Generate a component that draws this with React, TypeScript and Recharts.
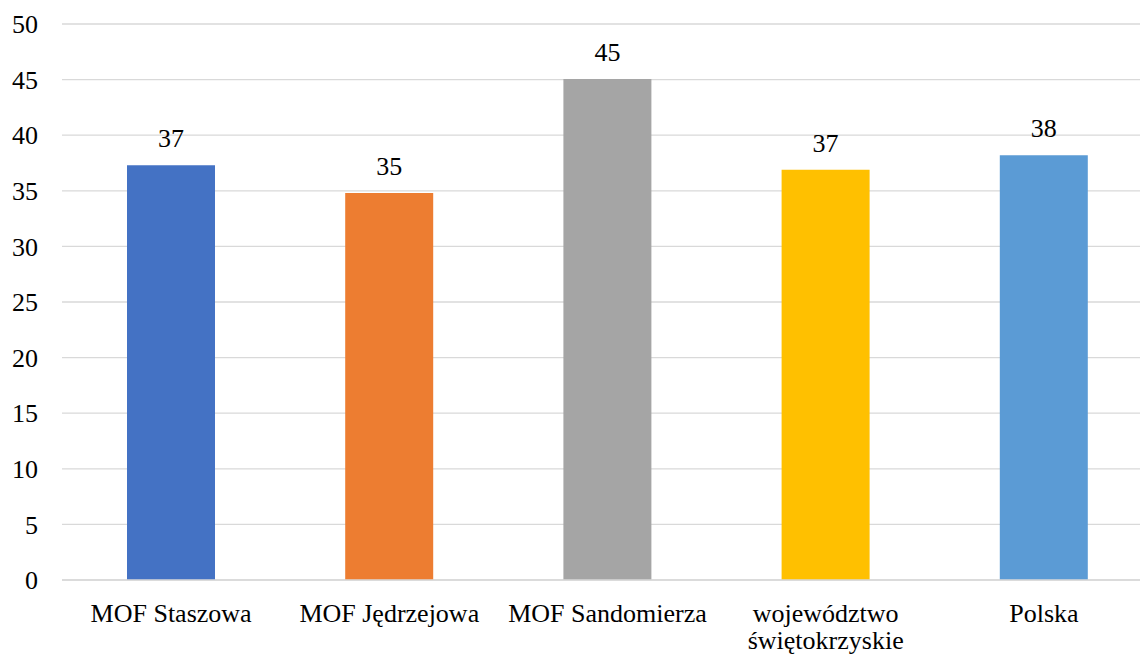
import React from 'react';
import { BarChart, Bar, XAxis, YAxis, CartesianGrid, LabelList, Cell } from 'recharts';

const categories = ['MOF Staszowa', 'MOF Jędrzejowa', 'MOF Sandomierza', 'województwo świętokrzyskie', 'Polska'];
const values = [37.3, 34.8, 45.05, 36.9, 38.2];
const labels = ['37', '35', '45', '37', '38'];
const colors = ['#4472C4', '#ED7D31', '#A5A5A5', '#FFC000', '#5B9BD5'];
const yTicks = [0, 5, 10, 15, 20, 25, 30, 35, 40, 45, 50];

const data = categories.map((name, i) => ({ name, value: values[i], label: labels[i] }));

const FONT = 'Liberation Serif, Times New Roman, serif';
const textStyle = { fontSize: 26, fontFamily: FONT, fill: '#000' };

const splitLabel = (s: string): string[] => {
  if (s.length <= 18) return [s];
  const words = s.split(' ');
  let best = 1;
  let bestDiff = Infinity;
  for (let k = 1; k < words.length; k++) {
    const a = words.slice(0, k).join(' ').length;
    const b = words.slice(k).join(' ').length;
    const diff = Math.abs(a - b);
    if (diff < bestDiff) {
      bestDiff = diff;
      best = k;
    }
  }
  return [words.slice(0, best).join(' '), words.slice(best).join(' ')];
};

const CategoryTick = (props: any) => {
  const { x, y, payload } = props;
  const lines = splitLabel(String(payload.value));
  return (
    <text x={x} y={y} textAnchor="middle" fontSize={26} fontFamily={FONT} fill="#000" style={textStyle}>
      {lines.map((line, i) => (
        <tspan key={i} x={x} dy={i === 0 ? 20 : 27}>
          {line}
        </tspan>
      ))}
    </text>
  );
};

export default function App() {
  return (
    <div style={{ position: 'absolute', left: 0, top: 0, width: 1140, height: 655, overflow: 'hidden', background: '#fff', fontFamily: FONT }}>
      <BarChart
        width={1160}
        height={655}
        data={data}
        margin={{ top: 24, right: 7, bottom: 0, left: 0 }}
        barSize={88}
        style={{ fontFamily: FONT }}
      >
        <CartesianGrid vertical={false} stroke="#d9d9d9" strokeWidth={1.3} />
        <XAxis
          dataKey="name"
          interval={0}
          height={75}
          tickLine={false}
          tickSize={0}
          tickMargin={22}
          axisLine={{ stroke: '#d9d9d9', strokeWidth: 1.3 }}
          tick={<CategoryTick />}
        />
        <YAxis
          width={62}
          domain={[0, 50]}
          ticks={yTicks}
          interval={0}
          axisLine={false}
          tickLine={false}
          tickSize={0}
          tickMargin={24}
          tick={{ fontSize: 26, fontFamily: FONT, fill: '#000', style: textStyle }}
        />
        <Bar dataKey="value" isAnimationActive={false}>
          {data.map((d, i) => (
            <Cell key={d.name} fill={colors[i]} />
          ))}
          <LabelList
            dataKey="label"
            position="top"
            offset={18}
            fontSize={26}
            fontFamily={FONT}
            fill="#000"
            style={textStyle}
          />
        </Bar>
      </BarChart>
    </div>
  );
}
